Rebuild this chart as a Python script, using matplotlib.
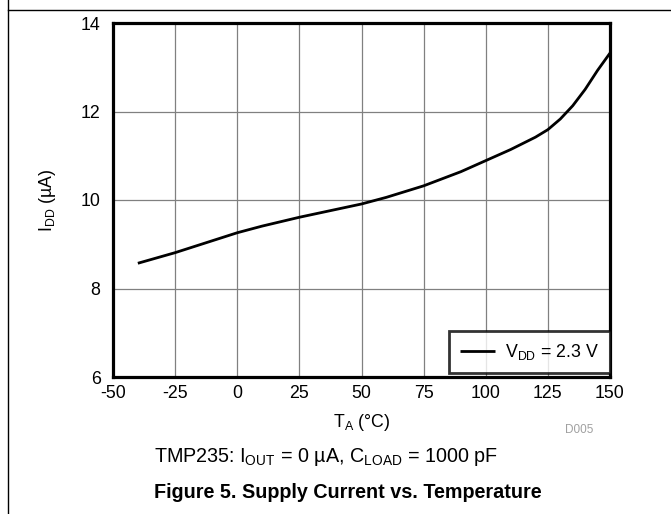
import matplotlib
matplotlib.use("Agg")
import matplotlib.pyplot as plt
from matplotlib.lines import Line2D

# ── Data ──────────────────────────────────────────────────────────────────────
temp_c = [-40, -25, -10, 0, 10, 25, 40, 50, 60, 75, 90, 100, 110,
          120, 125, 130, 135, 140, 145, 150]
idd_ua = [8.57, 8.81, 9.08, 9.26, 9.41, 9.61, 9.79, 9.91, 10.06, 10.32,
          10.64, 10.89, 11.14, 11.42, 11.59, 11.83, 12.13, 12.50, 12.93, 13.32]
x_ticks = [-50, -25, 0, 25, 50, 75, 100, 125, 150]
y_ticks = [6, 8, 10, 12, 14]
series_label = r"V$_{\mathrm{DD}}$ = 2.3 V"

# ── Fonts ─────────────────────────────────────────────────────────────────────
plt.rcParams["font.family"] = ["Liberation Sans", "DejaVu Sans"]
plt.rcParams["mathtext.fontset"] = "custom"
plt.rcParams["mathtext.rm"] = "Liberation Sans"
plt.rcParams["mathtext.it"] = "Liberation Sans:italic"
plt.rcParams["mathtext.bf"] = "Liberation Sans:bold"
plt.rcParams["axes.unicode_minus"] = False

FS = 12.8   # tick / label size

W, H = 671, 514
fig = plt.figure(figsize=(W / 100, H / 100), dpi=100)
fig.patch.set_facecolor("white")

# page frame lines (top rule and left rule)
fig.add_artist(Line2D([8 / W, 1.0], [1 - 10 / H, 1 - 10 / H],
                      color="black", lw=1.0, transform=fig.transFigure))
fig.add_artist(Line2D([8 / W, 8 / W], [0.0, 1.0],
                      color="black", lw=1.0, transform=fig.transFigure))

# ── Axes ──────────────────────────────────────────────────────────────────────
ax = fig.add_axes([113 / W, 1 - 377 / H, 497 / W, 354 / H])
ax.plot(temp_c, idd_ua, color="black", lw=2.0, label=series_label,
        solid_capstyle="butt", zorder=3)

ax.set_xlim(-50, 150)
ax.set_ylim(6, 14)
ax.set_xticks(x_ticks)
ax.set_yticks(y_ticks)
ax.grid(True, color="#808080", lw=0.9)
ax.set_axisbelow(True)
for s in ax.spines.values():
    s.set_linewidth(2.3)
    s.set_color("black")
ax.tick_params(length=0, labelsize=FS, colors="black")
ax.tick_params(axis="x", pad=6)
ax.tick_params(axis="y", pad=9)
for lbl in ax.get_yticklabels():
    lbl.set_verticalalignment("center_baseline")

ax.set_xlabel(r"T$_{\mathrm{A}}$ (°C)", fontsize=FS)
ax.set_ylabel(r"I$_{\mathrm{DD}}$ (µA)", fontsize=FS)
ax.xaxis.set_label_coords(0.5, -0.10)
ax.yaxis.set_label_coords(-0.111, 0.5)

leg = ax.legend(loc="lower right", bbox_to_anchor=(1.0, 0.012), fontsize=FS,
                frameon=True, fancybox=False, borderpad=0.6,
                handlelength=2.0, handletextpad=0.55, borderaxespad=0.0)
leg.get_frame().set_edgecolor("black")
leg.get_frame().set_linewidth(2.0)

# ── Texts below the chart ─────────────────────────────────────────────────────
fig.text(579 / W, 1 - 430 / H, "D005", fontsize=8.5, color="#a0a0a0",
         ha="center", va="center")
fig.text(326 / W, 1 - 457 / H,
         r"TMP235: I$_{\mathrm{OUT}}$ = 0 µA, C$_{\mathrm{LOAD}}$ = 1000 pF",
         fontsize=14.2, ha="center", va="center")
fig.text(348 / W, 1 - 492 / H, "Figure 5. Supply Current vs. Temperature",
         fontsize=14.2, fontweight="bold", ha="center", va="center")

fig.savefig("out.png", dpi=100)
